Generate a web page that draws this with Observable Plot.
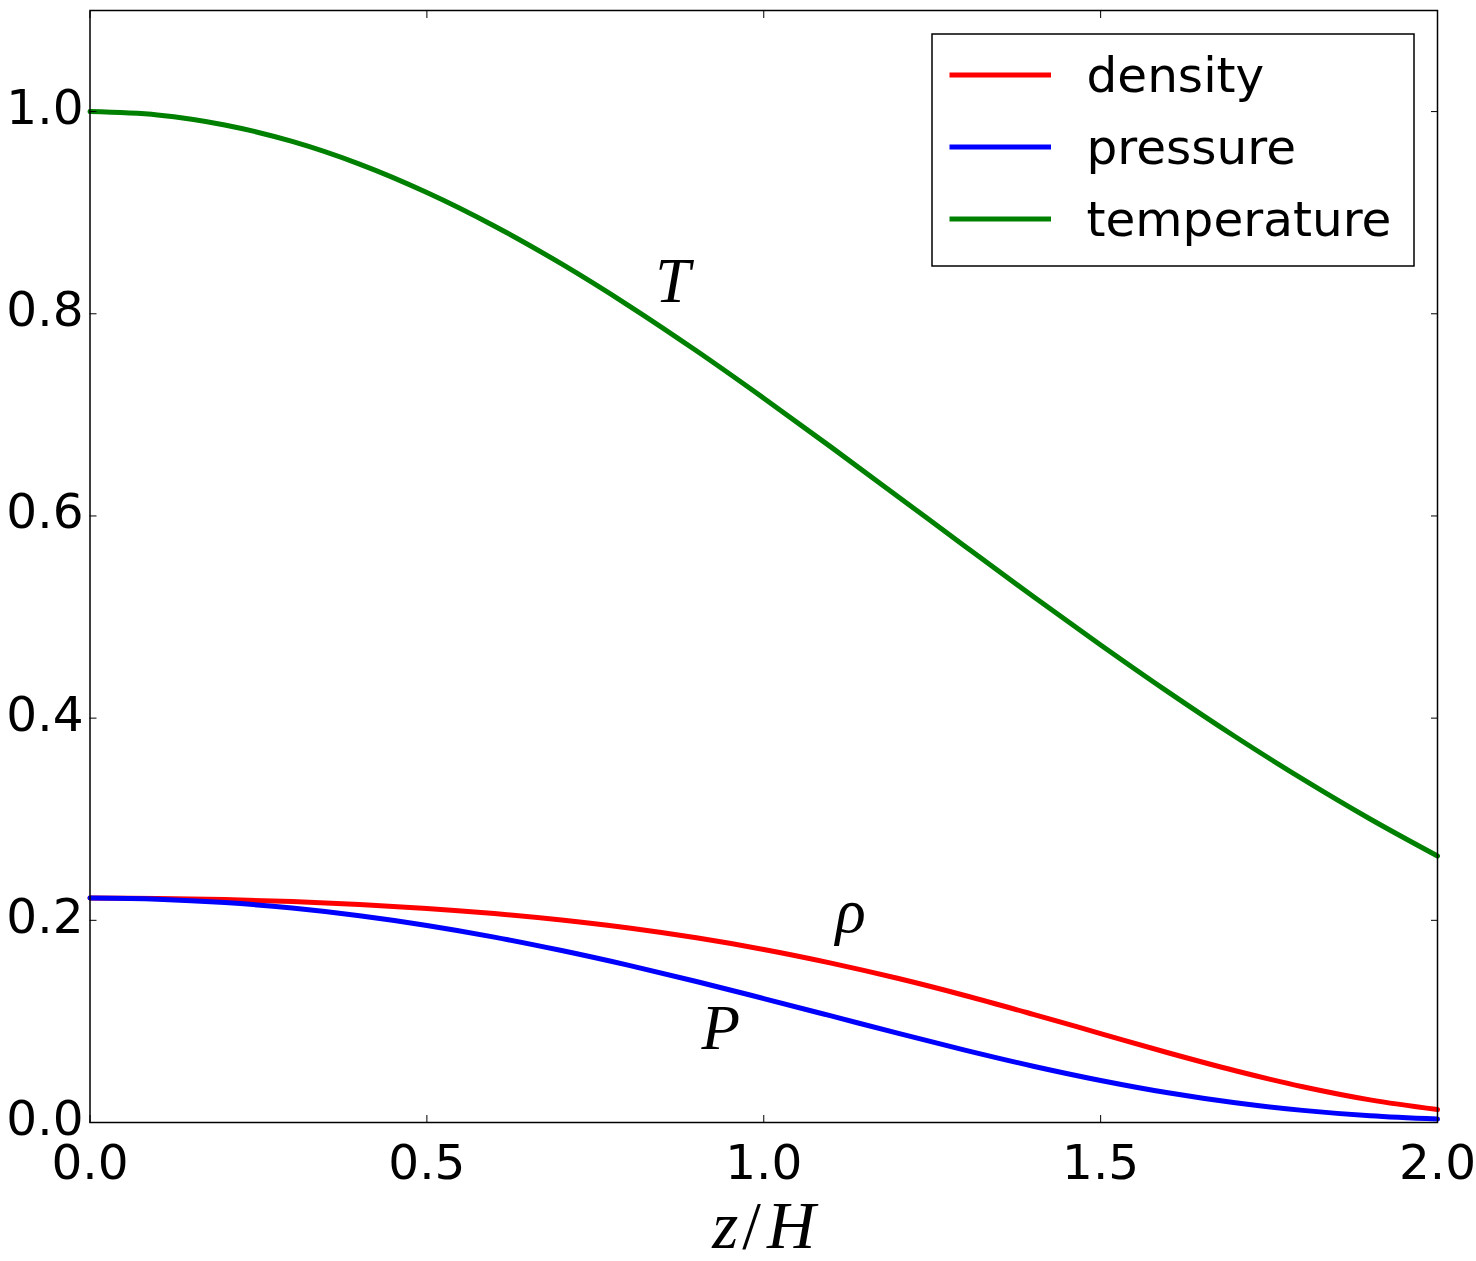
<!DOCTYPE html>
<html><head><meta charset="utf-8">
<script src="https://cdn.jsdelivr.net/npm/d3@7"></script>
<script src="https://cdn.jsdelivr.net/npm/@observablehq/plot@0.6"></script>
<style>
html,body{margin:0;padding:0;background:#fff;}
#wrap{position:relative;width:1476px;height:1261px;overflow:hidden;}
#wrap svg.legendbox{position:absolute;}
</style></head><body><div id="wrap"></div>
<script>
// z/H sample positions
const z = [0.0,0.1,0.2,0.3,0.4,0.5,0.6,0.7,0.8,0.9,1.0,1.1,1.2,1.3,1.4,1.5,1.6,1.7,1.8,1.9,2.0];
const density = [0.2220,0.2216,0.2205,0.2186,0.2157,0.2118,0.2067,0.2003,0.1924,0.1827,0.1712,0.1577,0.1424,0.1254,0.1070,0.0880,0.0690,0.0512,0.0354,0.0224,0.0128];
const pressure = [0.2220,0.2209,0.2176,0.2121,0.2045,0.1949,0.1834,0.1701,0.1554,0.1395,0.1226,0.1054,0.0881,0.0714,0.0557,0.0416,0.0294,0.0195,0.0120,0.0067,0.0034];
const temperature = [1.0000,0.9967,0.9868,0.9705,0.9481,0.9200,0.8869,0.8493,0.8079,0.7634,0.7165,0.6681,0.6188,0.5693,0.5203,0.4724,0.4260,0.3816,0.3396,0.3002,0.2636];
const seriesNames = ["density","pressure","temperature"];
const seriesColors = ["#ff0000","#0000ff","#008000"];
const xTicks = [0,0.5,1.0,1.5,2.0];
const yTicks = [0,0.2,0.4,0.6,0.8,1.0];
const xDomain = [0,2];
const yDomain = [0,1.1];
const annLabels = ["T","ρ","P"];
const annZ = [0.865,1.129,0.936];
const annV = [0.812,0.188,0.073];
const xLabel = "z/H";

const seriesValues = [density, pressure, temperature];
const rows = seriesNames.flatMap((name, s) => z.map((zz, i) => ({z: zz, v: seriesValues[s][i], series: name})));
const annotations = annLabels.map((t, i) => ({label: t, z: annZ[i], v: annV[i]}));

const fmt = d3.format(".1f");
const mathFont = "'Liberation Serif', 'DejaVu Serif', serif";
const tickFont = 48.5;

const chart = Plot.plot({
  width: 1476, height: 1261,
  marginLeft: 89.5, marginRight: 39, marginTop: 10, marginBottom: 139,
  style: {fontFamily: "'DejaVu Sans', sans-serif", fontSize: tickFont + "px", background: "#fff", color: "#000"},
  x: {domain: xDomain, label: null},
  y: {domain: yDomain, label: null},
  color: {domain: seriesNames, range: seriesColors},
  marks: [
    Plot.line(rows, {x: "z", y: "v", stroke: "series", strokeWidth: 5, curve: "catmull-rom"}),
    Plot.frame({stroke: "#000", strokeWidth: 1.5}),
    // inward tick marks on all four sides
    Plot.axisX({ticks: xTicks, anchor: "bottom", tickSize: -7, fill: "none", label: null}),
    Plot.axisX({ticks: xTicks, anchor: "top", tickSize: -7, fill: "none", label: null}),
    Plot.axisY({ticks: yTicks, anchor: "left", tickSize: -7, fill: "none", label: null}),
    Plot.axisY({ticks: yTicks, anchor: "right", tickSize: -7, fill: "none", label: null}),
    // tick labels
    Plot.axisX({ticks: xTicks, anchor: "bottom", tickSize: 0, tickPadding: 22, tickFormat: fmt, fontSize: tickFont, label: null}),
    Plot.axisY({ticks: yTicks, anchor: "left", tickSize: 0, tickPadding: 6.5, tickFormat: fmt, fontSize: tickFont, dy: -3, label: null}),
    Plot.text(annotations, {x: "z", y: "v", text: "label", fontFamily: mathFont, fontStyle: "italic", fontSize: 63, lineAnchor: "bottom", textAnchor: "middle"}),
    Plot.text([xLabel], {text: d => d, frameAnchor: "bottom", dy: 125, lineAnchor: "bottom", textAnchor: "middle", fontFamily: mathFont, fontSize: 67, className: "xlab"})
  ]
});
document.getElementById("wrap").appendChild(chart);

// math-style x label: italic z and H, upright slash, math spacing
d3.select(chart).selectAll(".xlab text").each(function() {
  const t = d3.select(this);
  const txt = t.text();
  t.text(null);
  const parts = [txt.slice(0, 1), txt.slice(1, 2), txt.slice(2)];
  t.append("tspan").attr("font-style", "italic").text(parts[0]);
  t.append("tspan").attr("dx", 4).text(parts[1]);
  t.append("tspan").attr("dx", 6).attr("font-style", "italic").text(parts[2]);
});

// legend box (inside the axes, upper right)
const lg = d3.select("#wrap").append("svg").attr("class", "legendbox")
  .attr("width", 484).attr("height", 234)
  .style("left", "930.5px").style("top", "33px");
lg.append("rect").attr("x", 1).attr("y", 1).attr("width", 482).attr("height", 232)
  .attr("fill", "#fff").attr("stroke", "#000").attr("stroke-width", 1.5);
seriesNames.forEach((name, i) => {
  const cy = 42 + i * 72;
  lg.append("line").attr("x1", 18.5).attr("x2", 120).attr("y1", cy).attr("y2", cy)
    .attr("stroke", seriesColors[i]).attr("stroke-width", 5);
  lg.append("text").attr("x", 155.5).attr("y", cy + 17)
    .attr("font-family", "'DejaVu Sans', sans-serif").attr("font-size", tickFont).attr("fill", "#000").text(name);
});
</script>
</body></html>
